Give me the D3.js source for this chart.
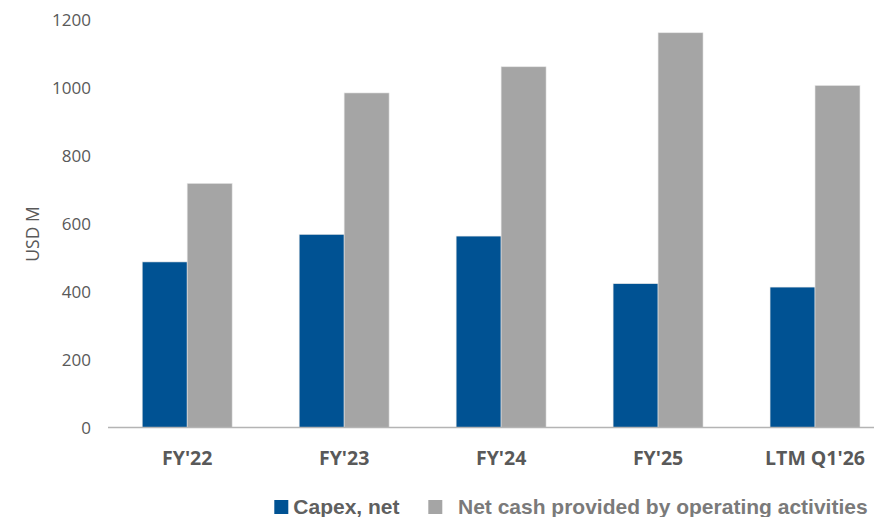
<!DOCTYPE html>
<html>
<head>
<meta charset="utf-8">
<script src="https://cdn.jsdelivr.net/npm/d3@7/dist/d3.min.js"></script>
<style>
  html, body { margin: 0; padding: 0; background: #ffffff; }
  svg { display: block; }
</style>
</head>
<body>
<svg id="chart" width="874" height="517"></svg>
<script>
// Fiscal periods on the category axis
const categories = ["FY'22", "FY'23", "FY'24", "FY'25", "LTM Q1'26"];
// Capital expenditure, net (USD M)
const capex = [487, 568, 563, 423, 413];
// Net cash provided by operating activities (USD M)
const operatingCash = [718, 984, 1061, 1161, 1006];
const seriesNames = ["Capex, net", "Net cash provided by operating activities"];
const yTicks = [0, 200, 400, 600, 800, 1000, 1200];

const colors = ["#005293", "#a5a5a5"];
const textColor = "#595959";

const svg = d3.select("#chart");

const x0 = d3.scaleBand()
  .domain(categories)
  .range([108.7, 893.5])
  .paddingInner(0.427)
  .paddingOuter(0.2135);

const x1 = d3.scaleBand()
  .domain([0, 1])
  .range([0, x0.bandwidth()]);

const y = d3.scaleLinear()
  .domain([0, 1200])
  .range([427.5, 19.5]);

const rows = categories.map((c, i) => ({ cat: c, values: [capex[i], operatingCash[i]] }));

// Bars
const groups = svg.append("g")
  .selectAll("g")
  .data(rows)
  .join("g")
  .attr("transform", d => `translate(${x0(d.cat)},0)`);

groups.selectAll("rect")
  .data(d => d.values.map((v, s) => ({ s, v })))
  .join("rect")
  .attr("x", d => x1(d.s))
  .attr("width", x1.bandwidth())
  .attr("y", d => y(d.v))
  .attr("height", d => y(0) - y(d.v))
  .attr("fill", d => colors[d.s])
  .attr("stroke", "#e6e6e6")
  .attr("stroke-width", 0.6);

// Value axis labels (no axis line)
const yAxis = d3.axisLeft(y).tickValues(yTicks).tickFormat(d3.format("d")).tickSize(0).tickPadding(0);
const yg = svg.append("g").attr("transform", "translate(91,0)").call(yAxis);
yg.select(".domain").remove();
yg.selectAll("text")
  .attr("fill", textColor)
  .attr("font-family", "'Open Sans', sans-serif")
  .attr("font-size", "17px")
  .attr("dy", "0.35em");

// Category axis
const xAxis = d3.axisBottom(x0).tickSize(0).tickPadding(0);
const xg = svg.append("g").attr("transform", `translate(0,${y(0)})`).call(xAxis);
xg.select(".domain")
  .attr("stroke", "#b4b4b4")
  .attr("stroke-width", 1.6)
  .attr("d", `M108,0H874`);
xg.selectAll("text")
  .attr("fill", textColor)
  .attr("font-family", "'Open Sans', sans-serif")
  .attr("font-weight", "bold")
  .attr("font-size", "19.5px")
  .attr("y", 37.5)
  .attr("dy", 0);

// Axis title
svg.append("text")
  .attr("transform", "translate(38.5,234) rotate(-90)")
  .attr("text-anchor", "middle")
  .attr("fill", textColor)
  .attr("font-family", "'Open Sans', sans-serif")
  .attr("font-size", "17.5px")
  .text("USD M");

// Legend
const legendX = [274.3, 428.3];
const legend = svg.append("g")
  .selectAll("g")
  .data(seriesNames)
  .join("g")
  .attr("transform", (d, i) => `translate(${legendX[i]},500)`);
legend.append("rect")
  .attr("width", 14)
  .attr("height", 14)
  .attr("fill", (d, i) => colors[i]);
legend.append("text")
  .attr("x", (d, i) => i === 0 ? 19 : 29.7)
  .attr("y", 14)
  .attr("fill", (d, i) => i === 0 ? "#5f5f5f" : "#7a7a7a")
  .attr("font-family", "'Liberation Sans', Arial, sans-serif")
  .attr("font-weight", "bold")
  .attr("font-size", "21px")
  .text(d => d);
</script>
</body>
</html>
